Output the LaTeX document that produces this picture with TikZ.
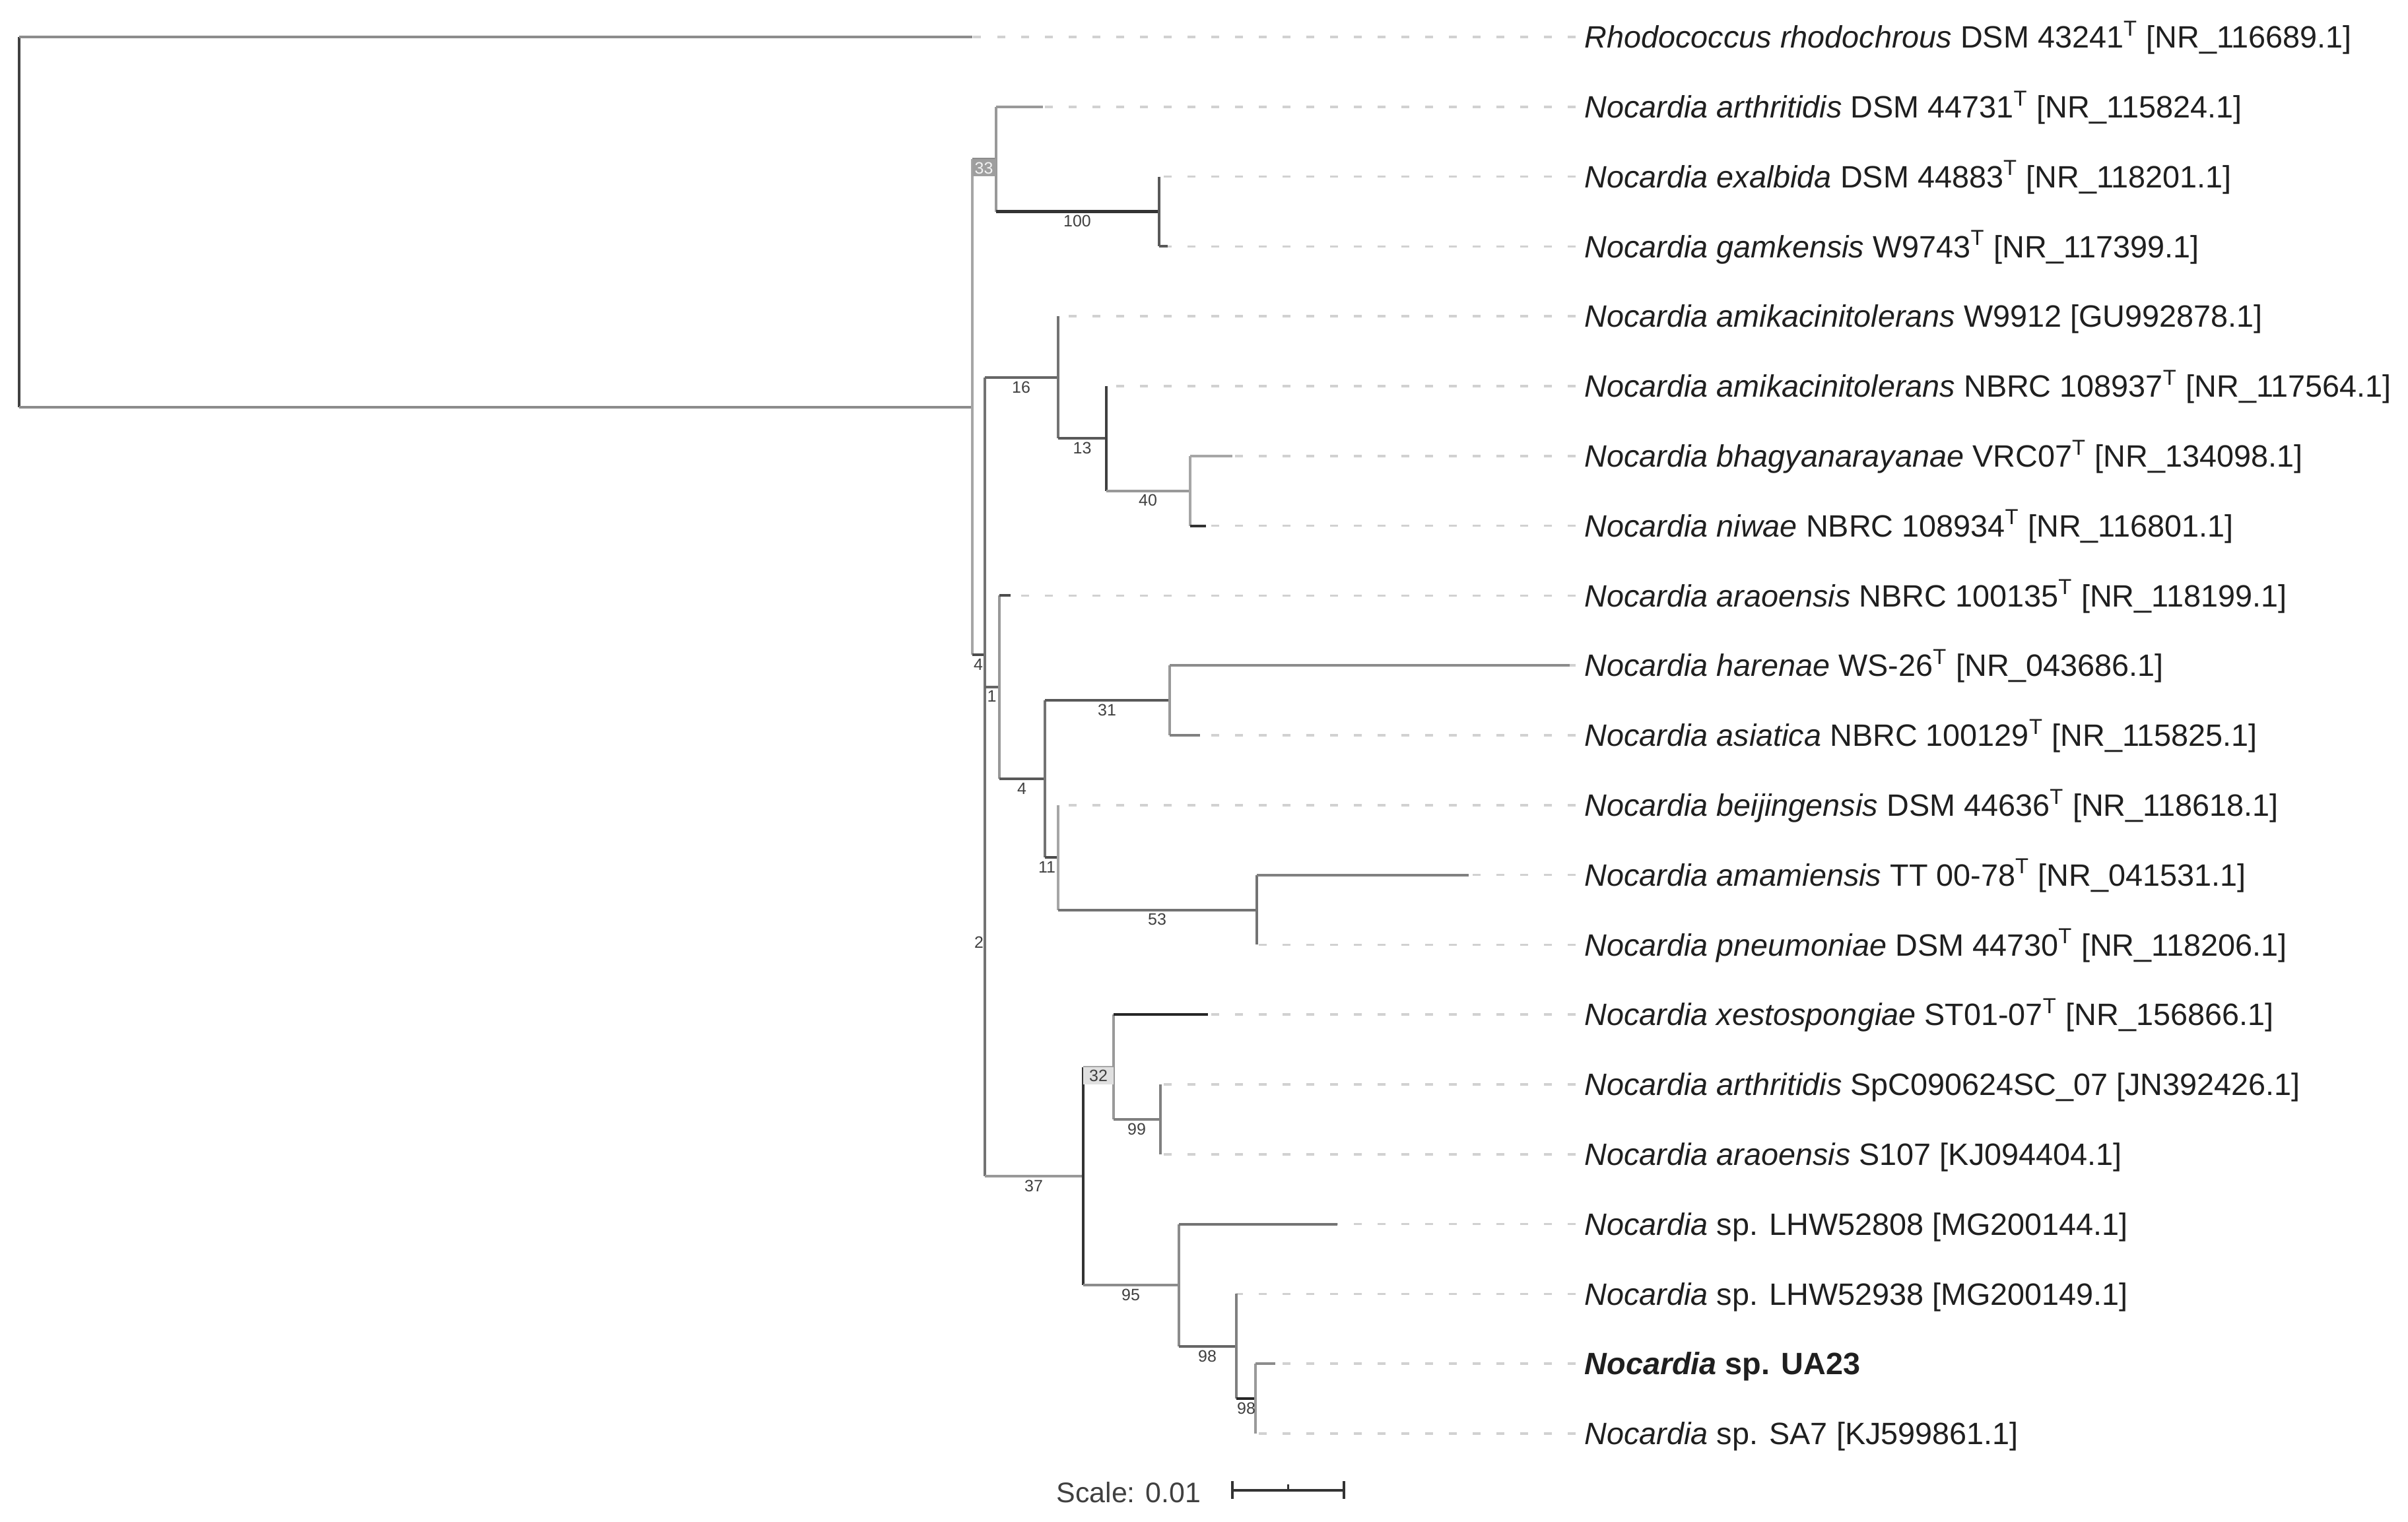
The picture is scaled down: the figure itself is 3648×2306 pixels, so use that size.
\documentclass[tikz,border=0pt]{standalone}
\usepackage{fontspec}
\setmainfont{Liberation Sans}
\newcommand\tiplabelfont{\fontsize{13.3pt}{16pt}\selectfont}
\newcommand\bootfont{\fontsize{7.1pt}{8.5pt}\selectfont}
\newcommand\scalelabfont{\fontsize{12.2pt}{14pt}\selectfont}
\tikzset{
  br/.style={line width=0.04cm, draw=#1, line cap=square},
  br/.default={black!50},
  leader/.style={line width=0.035cm, draw=black!18, dash pattern=on 0.12cm off 0.24cm},
  leaf/.style={anchor=base west, inner sep=0pt, font=\tiplabelfont, text=black!88},
  bs/.style={inner sep=0pt, font=\bootfont, text=black!75},
}
\newcommand\leafrow[3]{%
  \node[leaf] (t#1) at (2400,#2+16.7) {#3};
  \coordinate (e#1) at (2387,#2);
  \draw[leader] (e#1) -- (L#1);
}
\begin{document}
\begin{tikzpicture}[x=0.01cm,y=-0.01cm]
\fill[white] (0,0) rectangle (3648,2306);
\useasboundingbox (0,0) rectangle (3648,2306);
% ---------- node positions ----------
\coordinate (R) at (29,336);
\coordinate (L0) at (1473,56);
\coordinate (N0) at (1472.5,616.5);
\coordinate (N33) at (1508.8,241.2);
\coordinate (L1) at (1579.6,161.8);
\coordinate (N100) at (1755.7,320.5);
\coordinate (L2) at (1755.7,267.6);
\coordinate (L3) at (1769,373.4);
\coordinate (N4a) at (1491.7,991.7);
\coordinate (N16) at (1602.6,571.8);
\coordinate (L4) at (1602.6,479.2);
\coordinate (N13) at (1676,664.4);
\coordinate (L5) at (1676,585);
\coordinate (N40) at (1802.7,743.7);
\coordinate (L6) at (1866.6,690.8);
\coordinate (L7) at (1826.5,796.6);
\coordinate (N2) at (1491.7,1411.6);
\coordinate (N1) at (1513.5,1041.3);
\coordinate (L8) at (1530.8,902.4);
\coordinate (N4b) at (1582.5,1180.1);
\coordinate (N31) at (1772,1061.1);
\coordinate (L9) at (2378,1008.2);
\coordinate (L10) at (1818,1114);
\coordinate (N11) at (1602.6,1299.2);
\coordinate (L11) at (1602.6,1219.8);
\coordinate (N53) at (1904,1378.5);
\coordinate (L12) at (2225,1325.6);
\coordinate (L13) at (1904,1431.4);
\coordinate (N37) at (1640.8,1781.9);
\coordinate (N32) at (1686.7,1616.6);
\coordinate (L14) at (1829.6,1537.2);
\coordinate (N99) at (1758.2,1695.9);
\coordinate (L15) at (1758.2,1643);
\coordinate (L16) at (1758.2,1748.8);
\coordinate (N95) at (1785.5,1947.2);
\coordinate (L17) at (2026,1854.6);
\coordinate (N98a) at (1873.3,2039.8);
\coordinate (L18) at (1873.3,1960.4);
\coordinate (N98b) at (1902.3,2119.1);
\coordinate (L19) at (1931.7,2066.2);
\coordinate (L20) at (1902.3,2172);
% ---------- leaf labels and leaders ----------
\leafrow{0}{56}{\textit{Rhodococcus rhodochrous} DSM 43241\textsuperscript{T} [NR\_116689.1]}
\leafrow{1}{161.8}{\textit{Nocardia arthritidis} DSM 44731\textsuperscript{T} [NR\_115824.1]}
\leafrow{2}{267.6}{\textit{Nocardia exalbida} DSM 44883\textsuperscript{T} [NR\_118201.1]}
\leafrow{3}{373.4}{\textit{Nocardia gamkensis} W9743\textsuperscript{T} [NR\_117399.1]}
\leafrow{4}{479.2}{\textit{Nocardia amikacinitolerans} W9912 [GU992878.1]}
\leafrow{5}{585}{\textit{Nocardia amikacinitolerans} NBRC 108937\textsuperscript{T} [NR\_117564.1]}
\leafrow{6}{690.8}{\textit{Nocardia bhagyanarayanae} VRC07\textsuperscript{T} [NR\_134098.1]}
\leafrow{7}{796.6}{\textit{Nocardia niwae} NBRC 108934\textsuperscript{T} [NR\_116801.1]}
\leafrow{8}{902.4}{\textit{Nocardia araoensis} NBRC 100135\textsuperscript{T} [NR\_118199.1]}
\leafrow{9}{1008.2}{\textit{Nocardia harenae} WS-26\textsuperscript{T} [NR\_043686.1]}
\leafrow{10}{1114}{\textit{Nocardia asiatica} NBRC 100129\textsuperscript{T} [NR\_115825.1]}
\leafrow{11}{1219.8}{\textit{Nocardia beijingensis} DSM 44636\textsuperscript{T} [NR\_118618.1]}
\leafrow{12}{1325.6}{\textit{Nocardia amamiensis} TT 00-78\textsuperscript{T} [NR\_041531.1]}
\leafrow{13}{1431.4}{\textit{Nocardia pneumoniae} DSM 44730\textsuperscript{T} [NR\_118206.1]}
\leafrow{14}{1537.2}{\textit{Nocardia xestospongiae} ST01-07\textsuperscript{T} [NR\_156866.1]}
\leafrow{15}{1643}{\textit{Nocardia arthritidis} SpC090624SC\_07 [JN392426.1]}
\leafrow{16}{1748.8}{\textit{Nocardia araoensis} S107 [KJ094404.1]}
\leafrow{17}{1854.6}{\textit{Nocardia} sp. LHW52808 [MG200144.1]}
\leafrow{18}{1960.4}{\textit{Nocardia} sp. LHW52938 [MG200149.1]}
\leafrow{19}{2066.2}{\textbf{\textit{Nocardia} sp. UA23}}
\leafrow{20}{2172}{\textit{Nocardia} sp. SA7 [KJ599861.1]}
% ---------- branches ----------
% root
\draw[br=black!75, line width=0.03cm] (R|-L0) -- (R|-N0);
\draw[br=black!45] (R|-L0) -- (L0);
\draw[br=black!45] (R|-N0) -- (N0);
% N0
\draw[br=black!35] (N0|-N33) -- (N0|-N4a);
\draw[br=black!45] (N0|-N33) -- (N33);
\draw[br=black!70] (N0|-N4a) -- (N4a);
% N33
\draw[br=black!40] (N33|-L1) -- (N33|-N100);
\draw[br=black!40] (N33|-L1) -- (L1);
\draw[br=black!80] (N33|-N100) -- (N100);
% N100
\draw[br=black!65] (N100|-L2) -- (N100|-L3);
\draw[br=black!65] (N100|-L3) -- (L3);
% N4a
\draw[br=black!55] (N4a|-N16) -- (N4a|-N2);
\draw[br=black!60] (N4a|-N16) -- (N16);
% N16
\draw[br=black!55] (N16|-L4) -- (N16|-N13);
\draw[br=black!65] (N16|-N13) -- (N13);
% N13
\draw[br=black!75] (N13|-L5) -- (N13|-N40);
\draw[br=black!40] (N13|-N40) -- (N40);
% N40
\draw[br=black!35] (N40|-L6) -- (N40|-L7);
\draw[br=black!35] (N40|-L6) -- (L6);
\draw[br=black!80] (N40|-L7) -- (L7);
% N2
\draw[br=black!55] (N2|-N1) -- (N2|-N37);
\draw[br=black!60] (N2|-N1) -- (N1);
\draw[br=black!40] (N2|-N37) -- (N37);
% N1
\draw[br=black!40] (N1|-L8) -- (N1|-N4b);
\draw[br=black!70] (N1|-L8) -- (L8);
\draw[br=black!65] (N1|-N4b) -- (N4b);
% N4b
\draw[br=black!55] (N4b|-N31) -- (N4b|-N11);
\draw[br=black!65] (N4b|-N31) -- (N31);
\draw[br=black!70] (N4b|-N11) -- (N11);
% N31
\draw[br=black!40] (N31|-L9) -- (N31|-L10);
\draw[br=black!45] (N31|-L9) -- (L9);
\draw[br=black!50] (N31|-L10) -- (L10);
% N11
\draw[br=black!35] (N11|-L11) -- (N11|-N53);
\draw[br=black!55] (N11|-N53) -- (N53);
% N53
\draw[br=black!55] (N53|-L12) -- (N53|-L13);
\draw[br=black!50] (N53|-L12) -- (L12);
% N37
\draw[br=black!80] (N37|-N32) -- (N37|-N95);
\draw[br=black!35] (N37|-N32) -- (N32);
\draw[br=black!45] (N37|-N95) -- (N95);
% N32
\draw[br=black!40] (N32|-L14) -- (N32|-N99);
\draw[br=black!85] (N32|-L14) -- (L14);
\draw[br=black!50] (N32|-N99) -- (N99);
% N99
\draw[br=black!50] (N99|-L15) -- (N99|-L16);
% N95
\draw[br=black!45] (N95|-L17) -- (N95|-N98a);
\draw[br=black!55] (N95|-L17) -- (L17);
\draw[br=black!60] (N95|-N98a) -- (N98a);
% N98a
\draw[br=black!50] (N98a|-L18) -- (N98a|-N98b);
\draw[br=black!85] (N98a|-N98b) -- (N98b);
% N98b
\draw[br=black!40] (N98b|-L19) -- (N98b|-L20);
\draw[br=black!45] (N98b|-L19) -- (L19);
% ---------- bootstrap labels ----------
\fill[black!38] (N0|-N33) rectangle (1508.8,267);
\node[bs, text=black!5] (b33) at (1490.6,255) {33};
\node[bs] (b100) at (1632,335) {100};
\node[bs] (b16) at (1547,586.5) {16};
\node[bs] (b13) at (1639.5,679) {13};
\node[bs] (b40) at (1739,758) {40};
\node[bs] (b4a) at (1482,1007) {4};
\node[bs] (b1) at (1502.6,1055) {1};
\node[bs] (b4b) at (1548,1195) {4};
\node[bs] (b31) at (1677,1076) {31};
\node[bs] (b11) at (1586,1314) {11};
\node[bs] (b53) at (1753,1393) {53};
\node[bs] (b2) at (1483,1428) {2};
\node[bs] (b37) at (1566,1797) {37};
\fill[black!12] (N37|-N32) rectangle (1686.7,1643);
\node[bs] (b32) at (1664,1630) {32};
\node[bs] (b99) at (1722,1711) {99};
\node[bs] (b95) at (1713,1962) {95};
\node[bs] (b98a) at (1829,2055) {98};
\node[bs] (b98b) at (1888,2134) {98};
% ---------- scale ----------
\node[anchor=east, inner sep=0pt, font=\scalelabfont, text=black!75] (scl) at (1820,2261) {Scale: 0.01};
\coordinate (sb1) at (1867,2258);
\coordinate (sb2) at (2036,2258);
\coordinate (sbm) at (1951.5,2258);
\draw[line width=0.04cm, draw=black!80] (sb1) -- (sb2);
\draw[line width=0.04cm, draw=black!80] ([yshift=-0.13cm]sb1) -- ([yshift=0.14cm]sb1);
\draw[line width=0.04cm, draw=black!80] ([yshift=-0.13cm]sb2) -- ([yshift=0.14cm]sb2);
\draw[line width=0.03cm, draw=black!80] ([yshift=0.09cm]sbm) -- (sbm);
\end{tikzpicture}
\end{document}
